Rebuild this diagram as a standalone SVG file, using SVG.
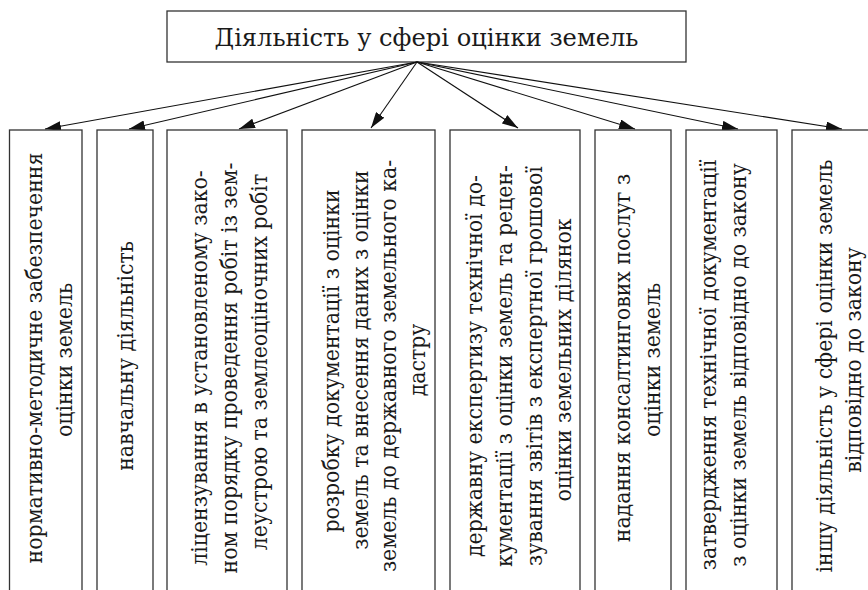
<svg xmlns="http://www.w3.org/2000/svg" width="868" height="590" viewBox="0 0 868 590">
<style>
.box{fill:#fff;stroke:#333;stroke-width:1.3}
.t{font-family:"DejaVu Serif","Liberation Serif",serif;font-size:23px;fill:#1a1a1a;text-anchor:middle}
.title{font-family:"DejaVu Serif","Liberation Serif",serif;font-size:25px;fill:#1a1a1a;text-anchor:middle}
.c{stroke:#111;stroke-width:1.1;fill:none;marker-end:url(#ah)}
</style>
<defs>
<marker id="ah" viewBox="0 0 16 10" refX="16" refY="5" markerWidth="16" markerHeight="10" orient="auto" markerUnits="userSpaceOnUse">
<path d="M0,0 L16,5 L0,10 z" fill="#111"/>
</marker>
</defs>
<rect width="868" height="590" fill="#fff"/>
<g id="root">
<rect class="box" x="167" y="11" width="519" height="51"/>
<text class="title" x="426.5" y="45.5" textLength="424" lengthAdjust="spacingAndGlyphs">Діяльність у сфері оцінки земель</text>
</g>
<g id="connectors">
<line class="c" x1="417" y1="62" x2="45" y2="129"/>
<line class="c" x1="417" y1="62" x2="129" y2="129"/>
<line class="c" x1="417" y1="62" x2="239" y2="129"/>
<line class="c" x1="417" y1="62" x2="371" y2="128"/>
<line class="c" x1="417" y1="62" x2="518" y2="128"/>
<line class="c" x1="417" y1="62" x2="635" y2="129"/>
<line class="c" x1="417" y1="62" x2="738" y2="129"/>
<line class="c" x1="417" y1="62" x2="842" y2="129"/>
</g>
<g id="n1">
<rect class="box" x="9.5" y="130" width="72.5" height="480"/>
<text class="t" transform="translate(42,358) rotate(-90) scale(0.89,1)">нормативно-методичне забезпечення</text>
<text class="t" transform="translate(72,360) rotate(-90) scale(0.89,1)">оцінки земель</text>
</g>
<g id="n2">
<rect class="box" x="97" y="130" width="56" height="480"/>
<text class="t" transform="translate(133,356) rotate(-90) scale(0.89,1)">навчальну діяльність</text>
</g>
<g id="n3">
<rect class="box" x="167" y="130" width="120" height="480"/>
<text class="t" transform="translate(207,368) rotate(-90) scale(0.89,1)">ліцензування в установленому зако-</text>
<text class="t" transform="translate(237,368) rotate(-90) scale(0.89,1)">ном порядку проведення робіт із зем-</text>
<text class="t" transform="translate(267,362) rotate(-90) scale(0.89,1)">леустрою та землеоціночних робіт</text>
</g>
<g id="n4">
<rect class="box" x="302" y="130" width="133" height="480"/>
<text class="t" transform="translate(339,361) rotate(-90) scale(0.89,1)">розробку документації з оцінки</text>
<text class="t" transform="translate(368,360) rotate(-90) scale(0.89,1)">земель та внесення даних з оцінки</text>
<text class="t" transform="translate(396,366) rotate(-90) scale(0.89,1)">земель до державного земельного ка-</text>
<text class="t" transform="translate(425,360) rotate(-90) scale(0.89,1)">дастру</text>
</g>
<g id="n5">
<rect class="box" x="450" y="130" width="130" height="480"/>
<text class="t" transform="translate(482,366) rotate(-90) scale(0.89,1)">державну експертизу технічної до-</text>
<text class="t" transform="translate(512,366) rotate(-90) scale(0.89,1)">кументації з оцінки земель та рецен-</text>
<text class="t" transform="translate(542,366) rotate(-90) scale(0.89,1)">зування звітів з експертної грошової</text>
<text class="t" transform="translate(571,360) rotate(-90) scale(0.89,1)">оцінки земельних ділянок</text>
</g>
<g id="n6">
<rect class="box" x="595" y="130" width="76" height="480"/>
<text class="t" transform="translate(630,358) rotate(-90) scale(0.89,1)">надання консалтингових послуг з</text>
<text class="t" transform="translate(660,360) rotate(-90) scale(0.89,1)">оцінки земель</text>
</g>
<g id="n7">
<rect class="box" x="686" y="130" width="91" height="480"/>
<text class="t" transform="translate(716,365) rotate(-90) scale(0.89,1)">затвердження технічної документації</text>
<text class="t" transform="translate(746,365) rotate(-90) scale(0.89,1)">з оцінки земель відповідно до закону</text>
</g>
<g id="n8">
<rect class="box" x="792" y="130" width="100" height="480"/>
<text class="t" transform="translate(832,366) rotate(-90) scale(0.89,1)">іншу діяльність у сфері оцінки земель</text>
<text class="t" transform="translate(861,360) rotate(-90) scale(0.89,1)">відповідно до закону</text>
</g>
</svg>
